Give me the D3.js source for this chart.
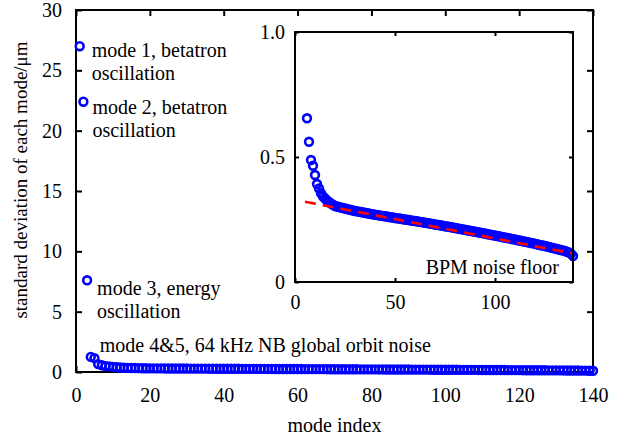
<!DOCTYPE html>
<head>
<meta charset="utf-8">
<style>
body { margin: 0; background: #fff; }
svg text { font-family: "Liberation Serif", "Times New Roman", Times, serif; fill: #000; }
.axis path, .axis line { stroke: #000; stroke-width: 2px; }
.axis text { font-size: 20px; }
.frame { fill: none; stroke: #000; stroke-width: 2px; }
.mark { fill: none; stroke: #0000ff; stroke-width: 2.6px; }
.fit { fill: none; stroke: #ff0000; stroke-width: 2.6px; stroke-dasharray: 11,7; }
.note { font-size: 20px; }
</style>
</head>
<body>
<script src="https://cdn.jsdelivr.net/npm/d3@7"></script>
<script>

// standard deviation of each mode (um), mode index 1..140
var modes = d3.range(1, 141);
var sigma = [
  27.0, 22.4, 7.6, 1.25, 1.15,
  0.655, 0.561, 0.488, 0.465, 0.428, 0.392, 0.374, 0.355, 0.342, 0.334,
  0.326, 0.320, 0.314, 0.309, 0.304,
  0.302, 0.300, 0.298, 0.296, 0.294, 0.292, 0.290, 0.288, 0.286, 0.284,
  0.283, 0.281, 0.280, 0.278, 0.277, 0.275, 0.274, 0.272, 0.271, 0.269,
  0.268, 0.267, 0.265, 0.264, 0.263, 0.262, 0.260, 0.259, 0.258, 0.256,
  0.255, 0.254, 0.253, 0.251, 0.250, 0.249, 0.248, 0.246, 0.245, 0.244,
  0.243, 0.241, 0.240, 0.239, 0.237, 0.236, 0.235, 0.233, 0.232, 0.230,
  0.229, 0.228, 0.226, 0.225, 0.223, 0.222, 0.221, 0.219, 0.218, 0.216,
  0.215, 0.213, 0.212, 0.210, 0.209, 0.207, 0.206, 0.204, 0.203, 0.201,
  0.200, 0.198, 0.197, 0.195, 0.194, 0.192, 0.190, 0.189, 0.187, 0.186,
  0.184, 0.183, 0.181, 0.179, 0.178, 0.176, 0.175, 0.173, 0.171, 0.170,
  0.168, 0.166, 0.165, 0.163, 0.161, 0.160, 0.158, 0.156, 0.155, 0.153,
  0.151, 0.149, 0.147, 0.146, 0.144, 0.142, 0.140, 0.138, 0.136, 0.134,
  0.132, 0.130, 0.128, 0.126, 0.124, 0.121, 0.118, 0.113, 0.104, 0.100
];

// linear fit of the BPM noise floor (inset)
var fitX = [5, 139];
var fitY = [0.321, 0.114];

var mainXTicks = [0, 20, 40, 60, 80, 100, 120, 140];
var mainYTicks = [0, 5, 10, 15, 20, 25, 30];
var insetXTicks = [0, 50, 100];
var insetYTicks = [0, 0.5, 1.0];
var insetYLabels = ["0", "0.5", "1.0"];

var notes = [
  {mode: 1, lines: ["mode 1, betatron", "oscillation"]},
  {mode: 2, lines: ["mode 2, betatron", "oscillation"]},
  {mode: 3, lines: ["mode 3, energy", "oscillation"]},
  {mode: 4, lines: ["mode 4&5, 64 kHz NB global orbit noise"]}
];

var width = 621, height = 441;
var serif = "'Liberation Serif', 'Times New Roman', serif";

var svg = d3.select("body").append("svg")
    .attr("width", width)
    .attr("height", height);

svg.append("rect").attr("width", width).attr("height", height).attr("fill", "#fff");

// main axes box
var m = {left: 76, right: 593, top: 10, bottom: 372};
var x = d3.scaleLinear().domain([0, 140]).range([m.left, m.right]);
var y = d3.scaleLinear().domain([0, 30]).range([m.bottom, m.top]);

function boxAxes(g, xs, ys, xt, yt, ylab, tick, padX, padY) {
  g.append("g").attr("class", "axis")
      .attr("transform", "translate(0," + ys.range()[0] + ")")
      .call(d3.axisBottom(xs).tickValues(xt).tickSizeInner(-tick).tickSizeOuter(0).tickPadding(padX).tickFormat(d3.format("d")));
  g.append("g").attr("class", "axis")
      .attr("transform", "translate(0," + ys.range()[1] + ")")
      .call(d3.axisTop(xs).tickValues(xt).tickSizeInner(-tick).tickSizeOuter(0).tickFormat(""));
  g.append("g").attr("class", "axis")
      .attr("transform", "translate(" + xs.range()[0] + ",0)")
      .call(d3.axisLeft(ys).tickValues(yt).tickSizeInner(-tick).tickSizeOuter(0).tickPadding(padY)
        .tickFormat(function(d, i) { return ylab ? ylab[i] : d; }));
  g.append("g").attr("class", "axis")
      .attr("transform", "translate(" + xs.range()[1] + ",0)")
      .call(d3.axisRight(ys).tickValues(yt).tickSizeInner(-tick).tickSizeOuter(0).tickFormat(""));
  g.selectAll(".axis").attr("font-family", serif).attr("font-size", 20);
  g.selectAll(".axis path").remove();
  g.append("rect").attr("class", "frame")
      .attr("x", xs.range()[0]).attr("y", ys.range()[1])
      .attr("width", xs.range()[1] - xs.range()[0])
      .attr("height", ys.range()[0] - ys.range()[1]);
}

var main = svg.append("g");
boxAxes(main, x, y, mainXTicks, mainYTicks, null, 6, 16, 14);

main.append("g").selectAll("circle")
    .data(modes)
    .enter().append("circle")
    .attr("class", "mark")
    .attr("cx", function(d) { return x(d); })
    .attr("cy", function(d, i) { return y(sigma[i]); })
    .attr("r", 3.9);

// annotations, offset from their point
var noteDx = [12, 9, 10, 9];
var noteDy = [11, 12, 15, -5];
notes.forEach(function(n, k) {
  var t = main.append("text").attr("class", "note")
      .attr("font-family", serif)
      .attr("x", x(n.mode) + noteDx[k])
      .attr("y", y(sigma[n.mode - 1]) + noteDy[k]);
  n.lines.forEach(function(line, j) {
    t.append("tspan").attr("x", x(n.mode) + noteDx[k]).attr("dy", j ? 23 : 0).text(line);
  });
});

svg.append("text")
    .attr("class", "note")
    .attr("font-family", serif)
    .attr("text-anchor", "middle")
    .attr("x", (m.left + m.right) / 2)
    .attr("y", 432)
    .text("mode index");

svg.append("text")
    .attr("font-family", serif)
    .attr("font-size", 19)
    .attr("text-anchor", "middle")
    .attr("transform", "translate(27,180) rotate(-90)")
    .text("standard deviation of each mode/\u03bcm");

// inset
var n = {left: 295, right: 573, top: 32, bottom: 282};
var xi = d3.scaleLinear().domain([0, 139]).range([n.left, n.right]);
var yi = d3.scaleLinear().domain([0, 1]).range([n.bottom, n.top]);

var inset = svg.append("g");
inset.append("rect")
    .attr("x", n.left).attr("y", n.top)
    .attr("width", n.right - n.left).attr("height", n.bottom - n.top)
    .attr("fill", "#fff");

var insetModes = modes.filter(function(d) { return d >= 6 && d <= 139; });
inset.append("g").selectAll("circle")
    .data(insetModes)
    .enter().append("circle")
    .attr("class", "mark")
    .attr("cx", function(d) { return xi(d); })
    .attr("cy", function(d) { return yi(sigma[d - 1]); })
    .attr("r", 3.9);

inset.append("path")
    .datum(fitX)
    .attr("class", "fit")
    .attr("d", d3.line()
      .x(function(d) { return xi(d); })
      .y(function(d, i) { return yi(fitY[i]); }));

boxAxes(inset, xi, yi, insetXTicks, insetYTicks, insetYLabels, 4, 13, 10);

inset.append("text")
    .attr("class", "note")
    .attr("font-family", serif)
    .attr("text-anchor", "end")
    .attr("x", n.right - 14)
    .attr("y", n.bottom - 8)
    .text("BPM noise floor");

</script>
</body>
</html>
